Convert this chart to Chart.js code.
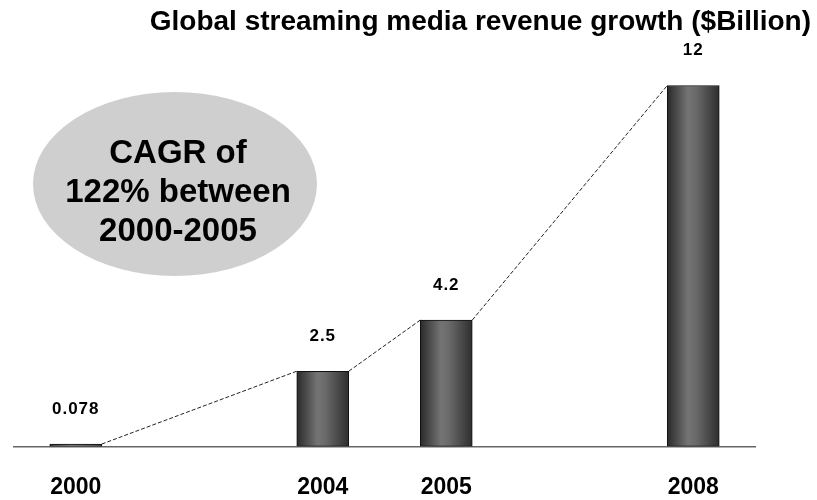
<!DOCTYPE html>
<html>
<head>
<meta charset="utf-8">
<script src="https://cdn.jsdelivr.net/npm/chart.js@4"></script>
<style>
  html, body { margin: 0; padding: 0; background: #fff; }
  #wrap { width: 817px; height: 500px; }
</style>
</head>
<body>
<div id="wrap"><canvas id="barChart"></canvas></div>
<script>
// data
const years = ['2000', '', '2004', '2005', '', '2008'];
const revenue = [0.078, null, 2.5, 4.2, null, 12];
const valueLabels = ['0.078', '', '2.5', '4.2', '', '12'];
const noteLines = ['CAGR of', '122% between', '2000-2005'];

const FONT = '"Liberation Sans", Arial, sans-serif';

// dotted line from top of one bar to the next
const connectorPlugin = {
  id: 'connector',
  afterDatasetsDraw(chart) {
    const ctx = chart.ctx;
    const bars = chart.getDatasetMeta(0).data.filter((b, i) => revenue[i] !== null);
    ctx.save();
    ctx.strokeStyle = '#222';
    ctx.lineWidth = 1;
    ctx.setLineDash([4, 2]);
    for (let i = 0; i < bars.length - 1; i++) {
      const a = bars[i], b = bars[i + 1];
      ctx.beginPath();
      ctx.moveTo(a.x + a.width / 2, a.y);
      ctx.lineTo(b.x - b.width / 2, b.y);
      ctx.stroke();
    }
    ctx.restore();
  }
};

// numbers above the bars
const valuePlugin = {
  id: 'values',
  afterDatasetsDraw(chart) {
    const ctx = chart.ctx;
    const bars = chart.getDatasetMeta(0).data;
    ctx.save();
    ctx.fillStyle = '#000';
    ctx.font = 'bold 17px ' + FONT;
    ctx.letterSpacing = '1px';
    ctx.textAlign = 'center';
    ctx.textBaseline = 'middle';
    bars.forEach((b, i) => {
      if (revenue[i] === null) return;
      ctx.fillText(valueLabels[i], b.x, b.y - 35);
    });
    ctx.restore();
  }
};

// grey ellipse with the CAGR note
const notePlugin = {
  id: 'note',
  afterDraw(chart) {
    const ctx = chart.ctx;
    ctx.save();
    ctx.fillStyle = '#cfcfcf';
    ctx.beginPath();
    ctx.ellipse(175, 184, 142, 92, 0, 0, Math.PI * 2);
    ctx.fill();
    ctx.fillStyle = '#000';
    ctx.font = 'bold 33px ' + FONT;
    ctx.textAlign = 'center';
    ctx.textBaseline = 'middle';
    noteLines.forEach((t, i) => ctx.fillText(t, 178, 154 + i * 39));
    ctx.restore();
  }
};

const ctx = document.getElementById('barChart').getContext('2d');
const chart = new Chart(ctx, {
  type: 'bar',
  data: {
    labels: years,
    datasets: [
      {
        data: revenue,
        backgroundColor: function (c) {
          const xs = c.chart.scales && c.chart.scales.x;
          if (!xs || !c.chart.chartArea) return '#555';
          const cx = xs.getPixelForValue(c.dataIndex);
          if (!isFinite(cx)) return '#555';
          const g = c.chart.ctx.createLinearGradient(cx - 26, 0, cx + 26, 0);
          g.addColorStop(0, '#2a2a2a');
          g.addColorStop(0.4, '#747474');
          g.addColorStop(0.55, '#6a6a6a');
          g.addColorStop(1, '#2e2e2e');
          return g;
        },
        borderColor: '#111',
        borderWidth: 1,
        borderSkipped: false,
        barThickness: 52,
      },
    ],
  },
  options: {
    responsive: true,
    maintainAspectRatio: false,
    animation: false,
    layout: {
      padding: { left: 14, right: 6, top: 0, bottom: -20 },
    },
    plugins: {
      legend: { display: false },
      tooltip: { enabled: false },
      title: {
        display: true,
        text: 'Global streaming media revenue growth ($Billion)',
        align: 'end',
        color: '#000',
        font: { family: FONT, size: 28, weight: 'bold' },
        padding: { top: 5, bottom: 0 },
      },
    },
    scales: {
      x: {
        grid: { display: false },
        border: { display: true, color: '#666', width: 1.5 },
        ticks: {
          color: '#000',
          padding: 19,
          maxRotation: 0,
          autoSkip: false,
          font: { family: FONT, size: 23, weight: 'bold' },
        },
      },
      y: {
        position: 'right',
        min: 0,
        max: 13.56,
        grid: { display: false },
        border: { display: false },
        ticks: { display: false },
        afterFit: function (s) { s.width = 56; },
      },
    },
  },
  plugins: [connectorPlugin, valuePlugin, notePlugin],
});
</script>
</body>
</html>
